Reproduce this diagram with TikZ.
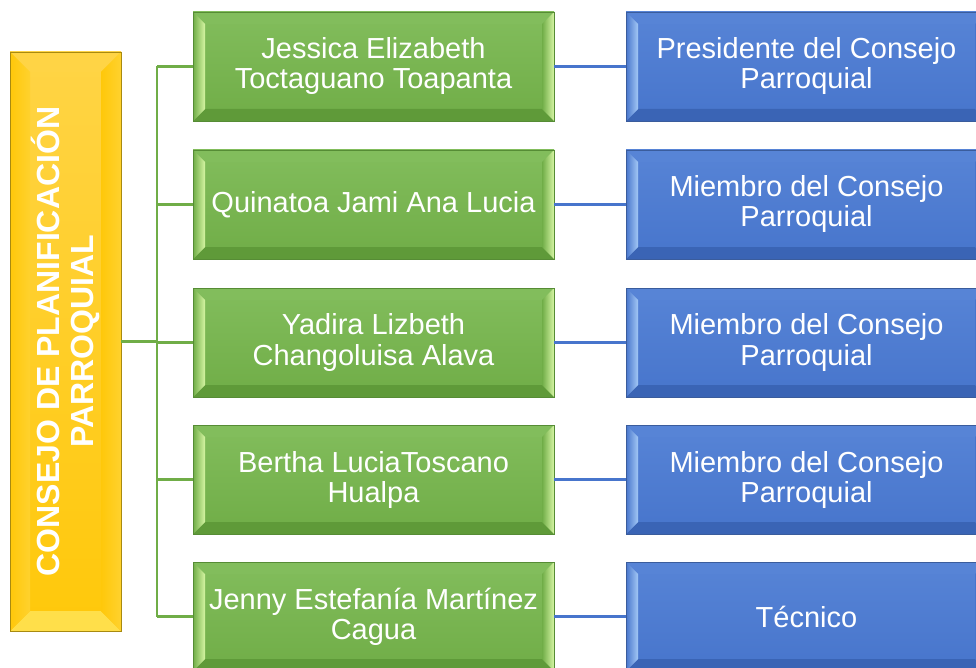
\documentclass[tikz,border=0pt]{standalone}
\usepackage{fontspec}
\setmainfont{Liberation Sans}

\definecolor{grnface}{HTML}{70AD47}
\definecolor{grntop}{HTML}{82BD5C}
\definecolor{grnbot}{HTML}{5F9A39}
\definecolor{grnpale}{HTML}{D6F5A3}
\definecolor{grnedge}{HTML}{568C35}
\definecolor{bluface}{HTML}{4775CC}
\definecolor{blutop}{HTML}{5784D6}
\definecolor{blubot}{HTML}{3A64B5}
\definecolor{blupale}{HTML}{A3C8F5}
\definecolor{bluedge}{HTML}{3A5C9C}
\definecolor{yelface}{HTML}{FFC80A}
\definecolor{yeltop}{HTML}{FFD445}
\definecolor{yelbot}{HTML}{FFDF4A}
\definecolor{yelpale}{HTML}{FFD22E}
\definecolor{yeledge}{HTML}{A88A10}

\tikzset{
  bevel width/.store in=\bevw, bevel width=12pt,
  % face, top band, bottom band, side highlight
  bevel/.style n args={4}{
    path picture={
      \coordinate (pnw) at (path picture bounding box.north west);
      \coordinate (pne) at (path picture bounding box.north east);
      \coordinate (psw) at (path picture bounding box.south west);
      \coordinate (pse) at (path picture bounding box.south east);
      \fill[#2] (pnw) -- (pne) -- ([shift={(-\bevw,-\bevw)}]pne) -- ([shift={(\bevw,-\bevw)}]pnw) -- cycle;
      \fill[#3] (psw) -- (pse) -- ([shift={(-\bevw,\bevw)}]pse) -- ([shift={(\bevw,\bevw)}]psw) -- cycle;
      \shade[left color=#1, right color=#4] (pnw) -- ([shift={(\bevw,-\bevw)}]pnw) -- ([shift={(\bevw,\bevw)}]psw) -- (psw) -- cycle;
      \shade[left color=#1, right color=#4] (pne) -- ([shift={(-\bevw,-\bevw)}]pne) -- ([shift={(-\bevw,\bevw)}]pse) -- (pse) -- cycle;
    }},
  namebox/.style={draw=grnedge, line width=0.8pt, top color=grntop, bottom color=grnface,
    bevel={grnface}{grntop}{grnbot}{grnpale}, minimum width=361pt, minimum height=109pt,
    inner sep=0pt, text=white, align=center, font=\fontsize{29}{30}\selectfont},
  rolebox/.style={draw=bluedge, line width=0.8pt, top color=blutop, bottom color=bluface,
    bevel={bluface}{blutop}{blubot}{blupale}, minimum width=361pt, minimum height=109pt,
    inner sep=0pt, text=white, align=center, font=\fontsize{29}{30}\selectfont},
  councilbox/.style={draw=yeledge, line width=0.8pt, top color=yeltop, bottom color=yelface,
    bevel width=20pt, bevel={yelface}{yeltop}{yelbot}{yelpale},
    minimum width=111pt, minimum height=579pt, inner sep=0pt},
  councillabel/.style={text=white, align=center, inner sep=0pt,
    font=\bfseries\fontsize{32}{34}\selectfont},
  greenlink/.style={draw=grnface, line width=2.2pt},
  bluelink/.style={draw=bluface, line width=2.2pt},
}

\begin{document}
\begin{tikzpicture}[x=1pt, y=-1pt]
  \useasboundingbox (0,0) rectangle (976,668);
  \clip (0,0) rectangle (976,668);
  % council
  \node[councilbox] (cons) at (65.5,341.5) {};
  \node[councillabel, rotate=90] (constext) at (cons.center) {CONSEJO DE PLANIFICACIÓN\\PARROQUIAL};
  % members
  \node[namebox] (n1) at (373.5,66.5) {Jessica Elizabeth\\Toctaguano Toapanta};
  \node[namebox] (n2) at (373.5,204.5) {Quinatoa Jami Ana Lucia};
  \node[namebox] (n3) at (373.5,342.5) {Yadira Lizbeth\\Changoluisa Alava};
  \node[namebox] (n4) at (373.5,479.5) {Bertha LuciaToscano\\Hualpa};
  \node[namebox] (n5) at (373.5,616.5) {Jenny Estefanía Martínez\\Cagua};
  % roles
  \node[rolebox] (r1) at (806.5,66.5) {Presidente del Consejo\\Parroquial};
  \node[rolebox] (r2) at (806.5,204.5) {Miembro del Consejo\\Parroquial};
  \node[rolebox] (r3) at (806.5,342.5) {Miembro del Consejo\\Parroquial};
  \node[rolebox] (r4) at (806.5,479.5) {Miembro del Consejo\\Parroquial};
  \node[rolebox] (r5) at (806.5,616.5) {Técnico};
  % connectors
  \coordinate (bus) at (157,341.5);
  \draw[greenlink] (cons.east) -- (bus);
  \draw[greenlink] (bus |- n1.west) -- (bus |- n5.west);
  \draw[greenlink] (bus |- n1.west) -- (n1.west);
  \draw[greenlink] (bus |- n2.west) -- (n2.west);
  \draw[greenlink] (bus |- n3.west) -- (n3.west);
  \draw[greenlink] (bus |- n4.west) -- (n4.west);
  \draw[greenlink] (bus |- n5.west) -- (n5.west);
  \draw[bluelink] (n1.east) -- (r1.west);
  \draw[bluelink] (n2.east) -- (r2.west);
  \draw[bluelink] (n3.east) -- (r3.west);
  \draw[bluelink] (n4.east) -- (r4.west);
  \draw[bluelink] (n5.east) -- (r5.west);
\end{tikzpicture}
\end{document}
